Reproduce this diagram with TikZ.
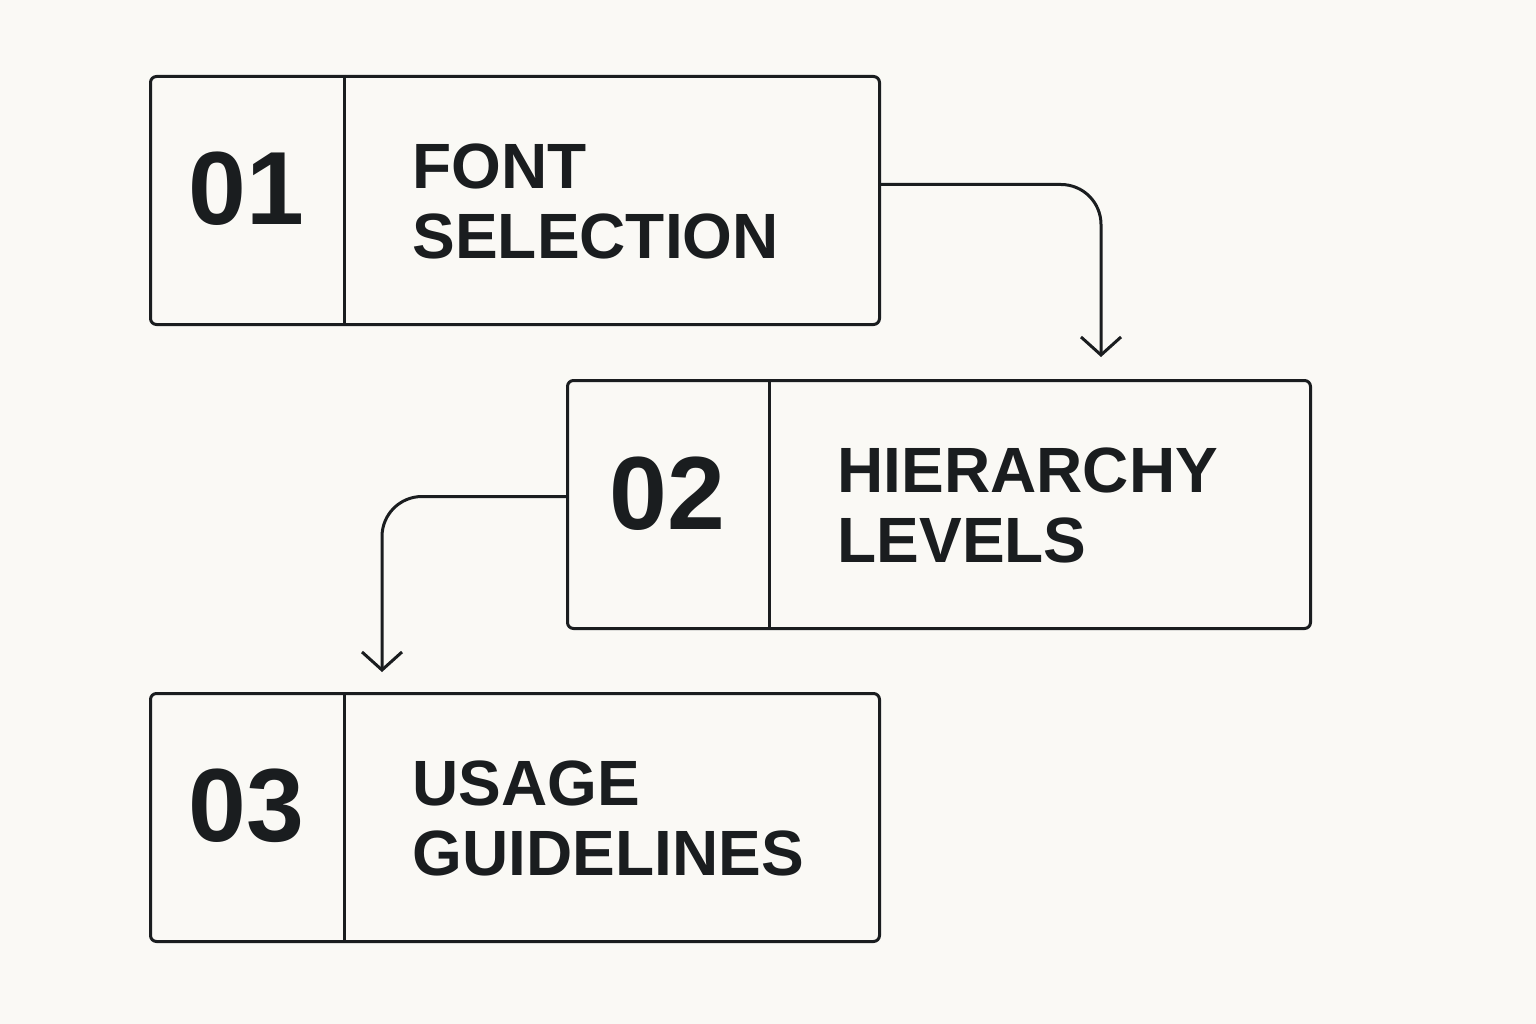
\documentclass[tikz,border=0pt]{standalone}
\usepackage{fontspec}
\setmainfont{Liberation Sans}
\usetikzlibrary{positioning, arrows.meta}
\definecolor{ink}{HTML}{1A1D1F}
\definecolor{paper}{HTML}{FAF9F5}
\tikzset{
	cell/.style = {draw = ink, line width = 3pt, rounded corners = 6pt, anchor = north west, minimum height = 248pt, inner sep = 0pt},
	numcell/.style = {anchor = north west, minimum height = 248pt, minimum width = 195pt, inner sep = 0pt},
	numtext/.style = {font = \fontsize{104}{104}\selectfont\bfseries, text = ink},
	title/.style = {anchor = west, align = left, font = \fontsize{64}{70}\selectfont\bfseries, text = ink, inner sep = 0pt},
	divider/.style = {draw = ink, line width = 3pt},
	link/.style = {draw = ink, line width = 3pt, rounded corners = 40pt, -{Straight Barb[length = 18pt, width = 40pt, line width = 3pt]}}
}
\begin{document}
\begin{tikzpicture}[x = 1pt, y = 1pt]

	% Background

	\fill [paper] (0, 0) rectangle (1536, -1024);
	\useasboundingbox (0, 0) rectangle (1536, -1024);

	% Boxes

	\node [cell, minimum width = 729pt] (b1) at (149, -75) {};
	\node [numcell] (n1) at (149, -75) {};
	\node [numtext] (t1) at ([yshift = 10pt]n1.center) {01};
	\draw [divider] (n1.north east) -- (n1.south east);
	\node [title] (l1) at ([xshift = 68pt, yshift = -2pt]n1.east) {FONT\\SELECTION};

	\node [cell, minimum width = 743pt] (b2) at (566, -379) {};
	\node [numcell, minimum width = 203pt] (n2) at (566, -379) {};
	\node [numtext] (t2) at ([yshift = 10pt]n2.center) {02};
	\draw [divider] (n2.north east) -- (n2.south east);
	\node [title] (l2) at ([xshift = 68pt, yshift = -2pt]n2.east) {HIERARCHY\\LEVELS};

	\node [cell, minimum width = 729pt] (b3) at (149, -692) {};
	\node [numcell] (n3) at (149, -692) {};
	\node [numtext] (t3) at ([yshift = 10pt]n3.center) {03};
	\draw [divider] (n3.north east) -- (n3.south east);
	\node [title] (l3) at ([xshift = 68pt, yshift = -2pt]n3.east) {USAGE\\GUIDELINES};

	% Connectors

	\draw [link] ([yshift = 16pt]b1.east) -| ([xshift = 162pt, yshift = 22pt]b2.north);
	\draw [link] ([yshift = 8pt]b2.west) -| ([xshift = -133pt, yshift = 20pt]b3.north);

\end{tikzpicture}
\end{document}
